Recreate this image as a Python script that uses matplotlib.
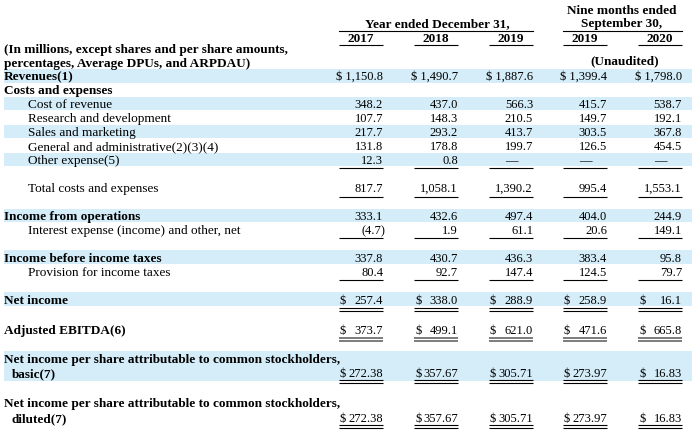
import matplotlib
matplotlib.use("Agg")
import matplotlib.pyplot as plt
from matplotlib.patches import Rectangle

# ---- data -------------------------------------------------------------
years = ["2017", "2018", "2019", "2019", "2020"]
revenues = ["1,150.8", "1,490.7", "1,887.6", "1,399.4", "1,798.0"]
cost_of_revenue = [348.2, 437.0, 566.3, 415.7, 538.7]
research_dev = [107.7, 148.3, 210.5, 149.7, 192.1]
sales_marketing = [217.7, 293.2, 413.7, 303.5, 367.8]
general_admin = [131.8, 178.8, 199.7, 126.5, 454.5]
other_expense = [12.3, 0.8, None, None, None]
total_costs = [817.7, 1058.1, 1390.2, 995.4, 1553.1]
income_ops = [333.1, 432.6, 497.4, 404.0, 244.9]
interest_other = [-4.7, 1.9, 61.1, 20.6, 149.1]
income_pretax = [337.8, 430.7, 436.3, 383.4, 95.8]
income_taxes = [80.4, 92.7, 147.4, 124.5, 79.7]
net_income = [257.4, 338.0, 288.9, 258.9, 16.1]
adj_ebitda = [373.7, 499.1, 621.0, 471.6, 665.8]
eps_basic = [272.38, 357.67, 305.71, 273.97, 16.83]
eps_diluted = [272.38, 357.67, 305.71, 273.97, 16.83]

# ---- layout -----------------------------------------------------------
FONT = "Liberation Serif"
FS = 9.5        # labels
FS_VAL = 9.0    # numbers
BAND = "#d4edf9"
col_right = [383, 458, 533, 607, 682]
col_w = 44
x_label, x_indent = 4, 28

fig = plt.figure(figsize=(7, 4.4), dpi=100)
ax = fig.add_axes([0, 0, 1, 1])
ax.set_xlim(0, 700)
ax.set_ylim(440, 0)
ax.axis("off")


def txt(x, y, s, ha="left", bold=False, size=FS):
    # y is the visual row centre; text sits on a shared baseline
    ax.text(x, y + 4.5, s, ha=ha, va="baseline", family=FONT, fontsize=size,
            fontweight="bold" if bold else "normal", color="black")


def band(y0, y1):
    ax.add_patch(Rectangle((4, y0), 688, y1 - y0, color=BAND, lw=0, zorder=0))


def fmt(v, dec=1):
    if v is None:
        return None
    if v < 0:
        return f"({abs(v):,.{dec}f})"
    return f"{v:,.{dec}f}"


def values(y, vals, dec=1, dollar=False):
    for r, v in zip(col_right, vals):
        s = fmt(v, dec)
        if s is None:
            txt(r - col_w / 2, y, "\u2014", ha="center", size=FS_VAL)
            continue
        if s.startswith("("):
            txt(r + 2, y, s, ha="right", size=FS_VAL)
        else:
            txt(r, y, s, ha="right", size=FS_VAL)
        if dollar:
            txt(r - col_w + 1, y, "$", size=FS_VAL)


def underline(y, double=False, color="black", lw=0.8):
    for r in col_right:
        ax.plot([r - col_w, r], [y, y], color=color, lw=lw, solid_capstyle="butt")
        if double:
            ax.plot([r - col_w, r], [y + 2.6, y + 2.6], color=color, lw=lw,
                    solid_capstyle="butt")


# ---- header -----------------------------------------------------------
txt(622, 9.5, "Nine months ended", ha="center", bold=True)
txt(622, 23, "September 30,", ha="center", bold=True)
txt(437, 23, "Year ended December 31,", ha="center", bold=True)
ax.plot([339, 533], [31, 31], color="black", lw=0.8)
ax.plot([563, 682], [31, 31], color="black", lw=0.8)
for r, yr in zip(col_right, years):
    txt(r - col_w / 2, 37.5, yr, ha="center", bold=True)
underline(45)

txt(x_label, 49, "(In millions, except shares and per share amounts,", bold=True)
txt(x_label, 62, "percentages, Average DPUs, and ARPDAU)", bold=True)
txt(625, 60, "(Unaudited)", ha="center", bold=True)

# ---- body -------------------------------------------------------------
band(69.5, 83)
txt(x_label, 75.5, "Revenues(1)", bold=True)
for r, s in zip(col_right, revenues):
    txt(r, 75.5, "$ " + s, ha="right", size=FS_VAL)

txt(x_label, 89.5, "Costs and expenses", bold=True)

rows = [
    ("Cost of revenue", 103.5, cost_of_revenue, True),
    ("Research and development", 117.5, research_dev, False),
    ("Sales and marketing", 131.5, sales_marketing, True),
    ("General and administrative(2)(3)(4)", 145.5, general_admin, False),
    ("Other expense(5)", 159.5, other_expense, True),
]
for label, y, vals, shaded in rows:
    if shaded:
        band(y - 6.8, y + 6.8)
    txt(x_indent, y, label)
    values(y, vals)
underline(168)

txt(x_indent, 187.5, "Total costs and expenses")
values(187.5, total_costs)
underline(197)

band(209, 222.5)
txt(x_label, 215.5, "Income from operations", bold=True)
values(215.5, income_ops)
txt(x_indent, 229.5, "Interest expense (income) and other, net")
values(229.5, interest_other)
underline(238.5)

band(250.5, 264)
txt(x_label, 257, "Income before income taxes", bold=True)
values(257, income_pretax)
txt(x_indent, 271, "Provision for income taxes")
values(271, income_taxes)
underline(280)

band(292.5, 306.5)
txt(x_label, 299.5, "Net income", bold=True)
values(299.5, net_income, dollar=True)
underline(308, double=True)

txt(x_label, 329.5, "Adjusted EBITDA(6)", bold=True)
values(329.5, adj_ebitda, dollar=True)
underline(338, double=True, color="#666666", lw=1.2)

band(351.5, 381.5)
txt(x_label, 358, "Net income per share attributable to common stockholders,", bold=True)
txt(12, 372.5, "basic(7)", bold=True)
values(372.5, eps_basic, dec=2, dollar=True)
underline(380, double=True)

txt(x_label, 403, "Net income per share attributable to common stockholders,", bold=True)
txt(12, 417.5, "diluted(7)", bold=True)
values(417.5, eps_diluted, dec=2, dollar=True)
underline(425, double=True)

fig.savefig("out.png", dpi=100)
